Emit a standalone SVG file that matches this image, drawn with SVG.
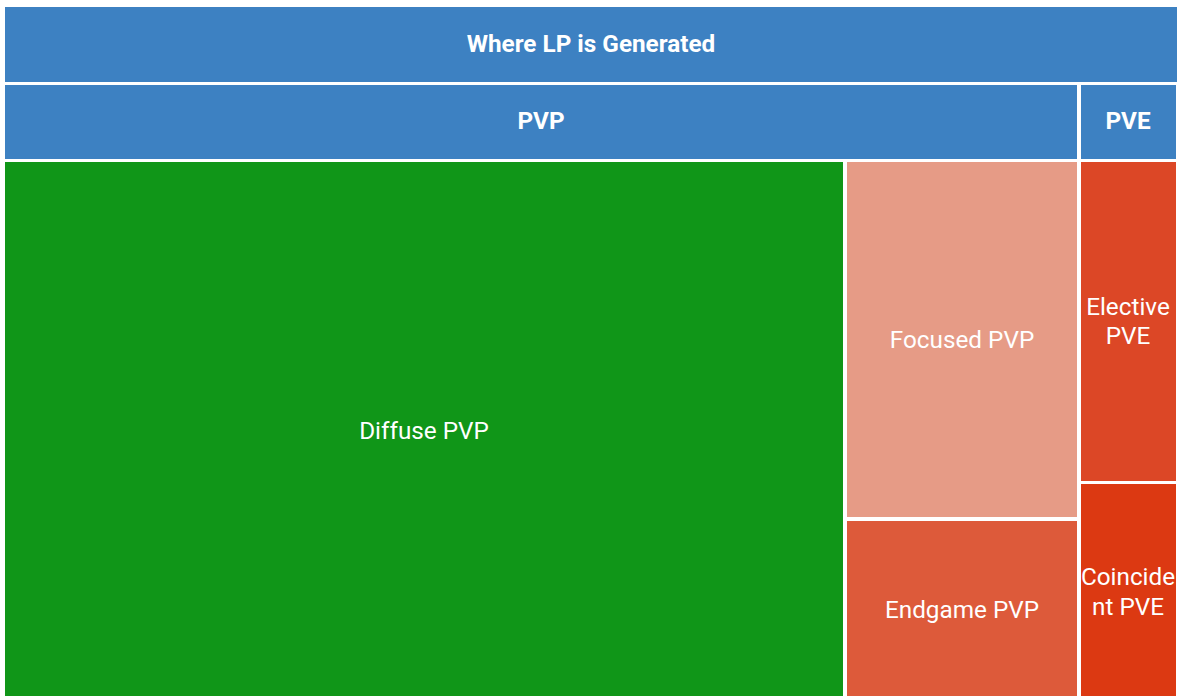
<svg xmlns="http://www.w3.org/2000/svg" width="1186" height="696" viewBox="0 0 1186 696">
  <style>
    .cell { stroke: none; }
    .lbl { font-family: Roboto, "Liberation Sans", sans-serif; fill: #ffffff; font-size: 24.3px; text-anchor: middle; dominant-baseline: central; }
    .hdr { font-weight: bold; }
  </style>
  <rect x="0" y="0" width="1186" height="696" fill="#ffffff"/>
  <g id="root">
    <rect class="cell" x="5" y="7" width="1172" height="75" fill="#3d81c2"/>
    <text class="lbl hdr" x="591" y="43">Where LP is Generated</text>
  </g>
  <g id="pvp">
    <rect class="cell" x="5" y="85" width="1072" height="74" fill="#3d81c2"/>
    <text class="lbl hdr" x="541" y="120">PVP</text>
  </g>
  <g id="pve">
    <rect class="cell" x="1081" y="85" width="95" height="74" fill="#3d81c2"/>
    <text class="lbl hdr" x="1128" y="120">PVE</text>
  </g>
  <g id="diffuse-pvp">
    <rect class="cell" x="5" y="162" width="838" height="534" fill="#109618"/>
    <text class="lbl" x="424" y="430">Diffuse PVP</text>
  </g>
  <g id="focused-pvp">
    <rect class="cell" x="847" y="162" width="230" height="355" fill="#e69b86"/>
    <text class="lbl" x="962" y="339">Focused PVP</text>
  </g>
  <g id="endgame-pvp">
    <rect class="cell" x="847" y="521" width="230" height="175" fill="#dd5a3a"/>
    <text class="lbl" x="962" y="609">Endgame PVP</text>
  </g>
  <g id="elective-pve">
    <rect class="cell" x="1081" y="162" width="95" height="319" fill="#dc4726"/>
    <text class="lbl" x="1128" y="306">Elective</text>
    <text class="lbl" x="1128" y="335">PVE</text>
  </g>
  <g id="coincident-pve">
    <rect class="cell" x="1081" y="484" width="95" height="212" fill="#dc3912"/>
    <text class="lbl" x="1128" y="576">Coincide</text>
    <text class="lbl" x="1128" y="606">nt PVE</text>
  </g>
  <g id="connectors"></g>
</svg>
